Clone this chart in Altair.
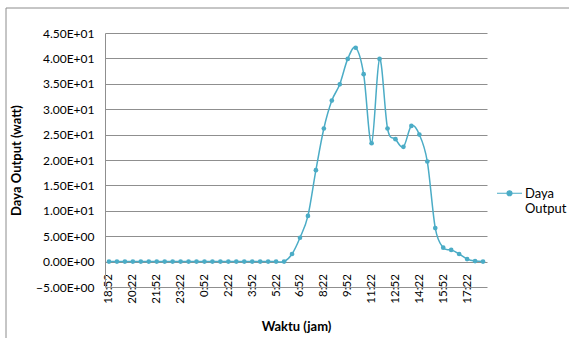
import altair as alt
import pandas as pd

times = ["18:52", "19:22", "19:52", "20:22", "20:52", "21:22", "21:52", "22:22",
         "22:52", "23:22", "23:52", "0:22", "0:52", "1:22", "1:52", "2:22",
         "2:52", "3:22", "3:52", "4:22", "4:52", "5:22", "5:52", "6:22",
         "6:52", "7:22", "7:52", "8:22", "8:52", "9:22", "9:52", "10:22",
         "10:52", "11:22", "11:52", "12:22", "12:52", "13:22", "13:52", "14:22",
         "14:52", "15:22", "15:52", "16:22", "16:52", "17:22", "17:52", "18:22"]

power = [0, 0, 0, 0, 0, 0, 0, 0,
         0, 0, 0, 0, 0, 0, 0, 0,
         0, 0, 0, 0, 0, 0, 0, 1.5,
         4.7, 9.0, 18.0, 26.2, 31.7, 34.9, 39.9, 42.1,
         36.9, 23.3, 39.9, 26.2, 24.1, 22.6, 26.7, 25.0,
         19.7, 6.6, 2.75, 2.3, 1.5, 0.5, 0.1, 0.0]

tick_labels = ["18:52", "20:22", "21:52", "23:22", "0:52", "2:22", "3:52", "5:22",
               "6:52", "8:22", "9:52", "11:22", "12:52", "14:22", "15:52", "17:22"]

y_ticks = [-5, 0, 5, 10, 15, 20, 25, 30, 35, 40, 45]

series_name = "Daya Output"
COLOR = "#4BACC6"
GRID = "#8f8f8f"
FONT = "Lato"

df = pd.DataFrame({"Waktu": times, "Daya": power, "Seri": [series_name] * len(times)})

E = "floor(log(abs(datum.value)) / LN10)"
label_expr = (
    "datum.value == 0 ? '0.00E+00' : "
    f"format(datum.value / pow(10, {E}), '.2f') + 'E' + ({E} < 0 ? '-' : '+') + "
    f"(abs({E}) < 10 ? '0' : '') + abs({E})"
)

x_enc = alt.X(
    "Waktu:N", sort=times,
    scale=alt.Scale(type="point", padding=0.5),
    axis=alt.Axis(values=tick_labels, labelAngle=-90, offset=-25.4, domain=False,
                  ticks=False, grid=False, labelPadding=12, labelFont=FONT,
                  labelFontSize=11.5, labelColor="#000000",
                  title="Waktu (jam)", titleFont=FONT, titleFontSize=13,
                  titleFontWeight="bold", titleColor="#000000", titlePadding=17),
)
y_enc = alt.Y(
    "Daya:Q",
    scale=alt.Scale(domain=[-5, 45], nice=False, zero=False),
    axis=alt.Axis(values=y_ticks, labelExpr=label_expr, grid=True, gridColor=GRID,
                  gridWidth=1, ticks=False, domain=True, domainColor=GRID,
                  labelPadding=11, labelFont=FONT, labelFontSize=12,
                  labelColor="#000000", title="Daya Output (watt)", titleFont=FONT,
                  titleFontSize=13, titleFontWeight="bold", titleColor="#000000",
                  titlePadding=12),
)

legend_path = ("M-1,-0.34H1M0.2,-0.34A0.2,0.2 0 1,1 -0.2,-0.34"
               "A0.2,0.2 0 1,1 0.2,-0.34Z")
color_enc = alt.Color(
    "Seri:N", scale=alt.Scale(range=[COLOR]),
    legend=alt.Legend(title=None, orient="none", legendX=391, legendY=151,
                      symbolType=legend_path, symbolSize=625, symbolStrokeWidth=1.2,
                      symbolStrokeColor=COLOR, symbolFillColor=COLOR,
                      labelExpr="['Daya', 'Output']", labelBaseline="alphabetic",
                      labelFont=FONT, labelFontSize=13, labelColor="#000000",
                      labelOffset=2, padding=0),
)

base = alt.Chart(df).encode(x=x_enc, y=y_enc, color=color_enc)
line = base.mark_line(interpolate="cardinal", strokeWidth=1.5)
points = base.mark_point(filled=True, size=22, opacity=1)

frame = pd.DataFrame({"k": [0]})
top_border = alt.Chart(frame).mark_rule(color="#8c8c8c", strokeWidth=1).encode(
    x=alt.value(-99), x2=alt.value(464), y=alt.value(-25))
left_border = alt.Chart(frame).mark_rule(color="#8c8c8c", strokeWidth=1).encode(
    x=alt.value(-99), y=alt.value(-25), y2=alt.value(305))

chart = alt.layer(line, points, top_border, left_border).properties(
    width=382, height=254,
    autosize=alt.AutoSizeParams(type="none"),
    padding={"left": 105, "top": 33, "right": 82, "bottom": 51},
    background="white",
).configure_view(strokeWidth=0)

chart.save("out.html", embed_options={"renderer": "svg", "actions": False})
